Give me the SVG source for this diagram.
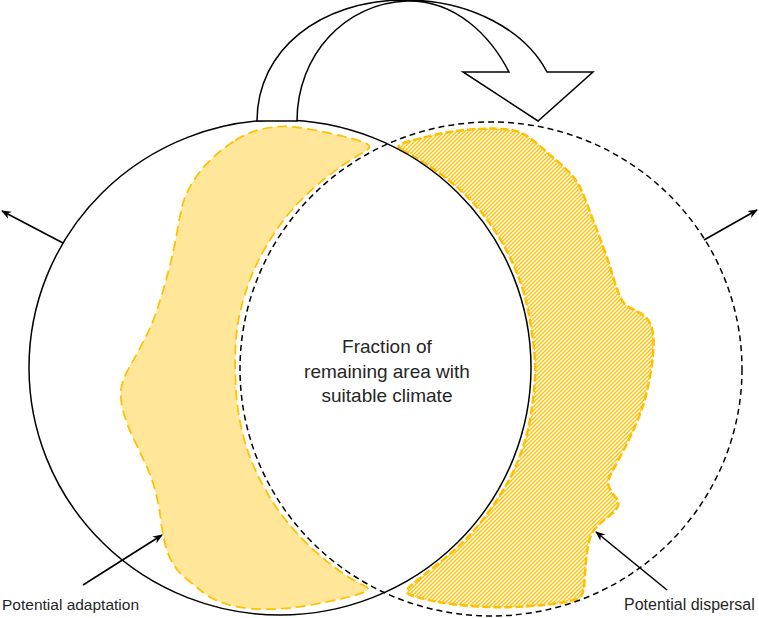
<svg xmlns="http://www.w3.org/2000/svg" width="759" height="618" viewBox="0 0 759 618">
  <style>
    .txt { font-family: "Liberation Sans", Arial, sans-serif; fill: #262626; }
    .solid { fill: none; stroke: #000; stroke-width: 1.5; }
    .dashed { fill: none; stroke: #000; stroke-width: 1.5; stroke-dasharray: 6 4; }
    .conn { fill: none; stroke: #000; stroke-width: 1.6; marker-end: url(#arrow); }
  </style>
  <defs>
    <marker id="arrow" viewBox="0 0 10 10" refX="9" refY="5" markerWidth="10" markerHeight="10" markerUnits="userSpaceOnUse" orient="auto">
      <path d="M0,1 L10,5 L0,9 L3,5 Z" fill="#000"/>
    </marker>
    <pattern id="hatch" patternUnits="userSpaceOnUse" width="4" height="4">
      <rect width="4" height="4" fill="#fff"/>
      <path d="M-1,1 L1,-1 M0,4 L4,0 M3,5 L5,3" stroke="#FFC000" stroke-width="1.4"/>
    </pattern>
  </defs>
  <rect width="759" height="618" fill="#fff"/>

  <g id="region-adaptation">
    <path d="M235,140.5 Q247,133 258.5,130 Q270,127 281,126.5 Q292,126 311,129.5 Q330,133 346,137 Q362,141 367,144 Q372,147 367,150 Q362,153 351.5,159.5 Q341,166 327.5,176.5 Q314,187 301,200 Q288,213 276.5,230 Q265,247 257,263.5 Q249,280 243.5,299 Q238,318 236.25,336.5 Q234.5,355 235.5,380 Q236.5,405 240.5,424 Q244.5,443 250.25,458 Q256,473 265.5,490 Q275,507 288.5,523.5 Q302,540 317,553 Q332,566 344,574 Q356,582 363,585 Q370,588 367,590.5 Q364,593 348.5,597 Q333,601 316.5,604 Q300,607 283.5,608.5 Q267,610 250,608.5 Q233,607 221.5,602.5 Q210,598 202.5,592 Q195,586 186,578.5 Q177,571 172,562 Q167,553 164.5,541.5 Q162,530 160.5,517.5 Q159,505 155.5,491.5 Q152,478 146,465 Q140,452 133.5,438.5 Q127,425 123.5,412.5 Q120,400 121,390 Q122,380 129.5,367 Q137,354 144.5,339.5 Q152,325 157.5,308.5 Q163,292 168.5,271 Q174,250 177,232.5 Q180,215 182.5,205 Q185,195 192.5,182.5 Q200,170 211.5,159 Q223,148 235,140.5 Z" fill="#FFE699" stroke="#FFC000" stroke-width="1.75" stroke-dasharray="10 5"/>
  </g>

  <g id="region-dispersal">
    <path d="M402.5,150.5 Q393,146 406.5,142 Q420,138 436.5,134.5 Q453,131 470,129.5 Q487,128 502,129 Q517,130 524.5,134.5 Q532,139 541,147 Q550,155 560,163.5 Q570,172 575.5,180 Q581,188 585.5,200 Q590,212 595,225 Q600,238 605,252 Q610,266 613.5,278 Q617,290 620.5,297.5 Q624,305 630.5,308 Q637,311 642.5,314.5 Q648,318 651,325.5 Q654,333 653.5,346.5 Q653,360 650,376.5 Q647,393 643,405.5 Q639,418 633,431 Q627,444 620,457 Q613,470 610,476 Q607,482 609,487 Q611,492 615.5,497 Q620,502 617.5,507 Q615,512 608,517 Q601,522 596,527.5 Q591,533 589,541.5 Q587,550 586,561 Q585,572 584.5,582 Q584,592 581,596 Q578,600 562.5,602.5 Q547,605 525,606.5 Q503,608 478,606.5 Q453,605 435.5,601.5 Q418,598 410.5,595 Q403,592 411.5,585 Q420,578 436,565.5 Q452,553 465,540 Q478,527 490,510 Q502,493 509,480 Q516,467 522,450 Q528,433 531,414 Q534,395 535,377.5 Q536,360 531.5,330 Q527,300 520,281 Q513,262 503.5,245 Q494,228 482,213 Q470,198 455,185.5 Q440,173 426,164 Q412,155 402.5,150.5 Z" fill="url(#hatch)" stroke="#FFC000" stroke-width="2.5" stroke-dasharray="8 3"/>
  </g>

  <g id="circle-current">
    <ellipse class="solid" cx="280" cy="367.5" rx="251" ry="247.5"/>
  </g>

  <g id="circle-future">
    <ellipse class="dashed" cx="491" cy="369" rx="251" ry="247"/>
  </g>

  <g id="arrow-shift">
    <path d="M257,121 C257,50 320,0 405,0 C470,0 525,30 547,72 L593,72 L538,121 L463,72 L509,72 C490,35 455,0 407,1 C345,3 297,55 297,121 Z" fill="#fff" stroke="#000" stroke-width="1.5" stroke-linejoin="miter"/>
  </g>

  <g id="label-center">
    <text class="txt" font-size="19" text-anchor="middle" x="387" y="353">Fraction of</text>
    <text class="txt" font-size="19" text-anchor="middle" x="387" y="377.5">remaining area with</text>
    <text class="txt" font-size="19" text-anchor="middle" x="387" y="402">suitable climate</text>
  </g>

  <g id="label-adaptation">
    <text class="txt" font-size="15.5" x="2" y="610">Potential adaptation</text>
  </g>

  <g id="label-dispersal">
    <text class="txt" font-size="16" x="624" y="610">Potential dispersal</text>
  </g>

  <g id="connectors">
    <line class="conn" x1="63" y1="243" x2="2" y2="211"/>
    <line class="conn" x1="704" y1="240" x2="757" y2="210"/>
    <line class="conn" x1="83" y1="585" x2="162" y2="535"/>
    <line class="conn" x1="667" y1="590" x2="596" y2="532"/>
  </g>
</svg>
